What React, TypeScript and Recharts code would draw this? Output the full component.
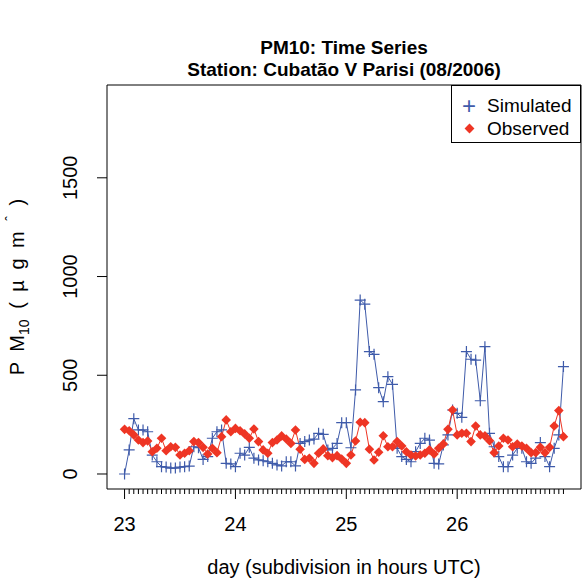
import { LineChart, Line, XAxis, YAxis, ReferenceArea, Label } from "recharts"

// hourly values, 23/08 00 UTC .. 26/08 23 UTC
const simulated = [
  0, 122, 280, 223, 223, 214, 96, 62, 37, 35, 30, 30,
  35, 37, 40, 138, 133, 74, 88, 181, 214, 223, 54, 51,
  37, 105, 96, 135, 80, 71, 67, 62, 54, 46, 41, 62,
  62, 41, 155, 164, 172, 177, 206, 201, 122, 130, 155, 260,
  260, 133, 426, 881, 860, 620, 606, 437, 366, 493, 454, 130,
  88, 74, 62, 113, 155, 181, 172, 54, 51, 147, 198, 324,
  307, 287, 620, 581, 577, 371, 645, 206, 138, 88, 37, 37,
  96, 130, 130, 62, 54, 80, 159, 88, 37, 130, 198, 544,
]

const observed = [
  226, 219, 198, 172, 159, 167, 113, 130, 181, 118, 138, 135,
  96, 105, 118, 164, 159, 135, 101, 130, 108, 189, 274, 214,
  231, 219, 203, 181, 228, 164, 122, 105, 159, 172, 193, 177,
  155, 223, 125, 74, 80, 54, 105, 127, 93, 83, 93, 76,
  54, 96, 167, 262, 260, 125, 71, 110, 194, 138, 138, 164,
  142, 113, 96, 91, 96, 105, 122, 101, 130, 152, 226, 324,
  198, 206, 206, 164, 243, 198, 193, 168, 108, 142, 181, 172,
  138, 152, 142, 130, 108, 108, 135, 108, 135, 243, 321, 189,
]

const dayLabels = ["23", "24", "25", "26"]
const yTicks = [0, 500, 1000, 1500]

const hours = simulated.map((_, i) => i)
const data = hours.map((h) => ({ hour: h, Simulated: simulated[h], Observed: observed[h] }))

const BLUE = "#3F5BAA"
const RED = "#EE3524"
const FONT = "'Liberation Sans', Arial, Helvetica, sans-serif"

const xDomain = [-3.8, 98.8]
const yDomain = [-76, 1970]

const XTick = ({ x, y, payload }: any) => {
  const major = payload.value % 24 === 0
  return (
    <g>
      <line x1={x} x2={x} y1={y} y2={y + (major ? 10 : 5)} stroke="#000" />
      {major && (
        <text x={x} y={y + 42} textAnchor="middle" fontSize={20} fontFamily={FONT} fill="#000">
          {dayLabels[payload.value / 24]}
        </text>
      )}
    </g>
  )
}

const YTick = ({ x, y, payload }: any) => (
  <g>
    <line x1={x - 10} x2={x} y1={y} y2={y} stroke="#000" />
    <text
      x={77}
      y={y}
      transform={`rotate(-90, 77, ${y})`}
      textAnchor="middle"
      fontSize={20}
      fontFamily={FONT}
      fill="#000"
    >
      {payload.value}
    </text>
  </g>
)

const Plus = ({ cx, cy }: any) => (
  <path d={`M${cx - 5.5},${cy}H${cx + 5.5}M${cx},${cy - 5.5}V${cy + 5.5}`} stroke={BLUE} strokeWidth={1.2} fill="none" />
)

const Diamond = ({ cx, cy }: any) => (
  <path d={`M${cx},${cy - 4.8}L${cx + 4.8},${cy}L${cx},${cy + 4.8}L${cx - 4.8},${cy}Z`} fill={RED} stroke="none" />
)

const YTitle = ({ viewBox }: any) => {
  const cx = 24
  const cy = viewBox.y + viewBox.height / 2
  return (
    <text
      x={cx}
      y={cy}
      transform={`rotate(-90, ${cx}, ${cy})`}
      textAnchor="middle"
      fontSize={20}
      fontFamily={FONT}
      fill="#000"
      style={{ wordSpacing: 5 }}
    >
      P M<tspan fontSize={14} dy={5}>10</tspan>
      <tspan dy={-5}> ( µ g m </tspan>
      <tspan fontSize={14} dy={-8}>ˆ</tspan>
      <tspan dy={8}> )</tspan>
    </text>
  )
}

const XTitle = ({ viewBox }: any) => (
  <text
    x={viewBox.x + viewBox.width / 2}
    y={574}
    textAnchor="middle"
    fontSize={20}
    fontFamily={FONT}
    fill="#000"
  >
    day (subdivision in hours UTC)
  </text>
)

export default function App() {
  return (
    <div style={{ position: "absolute", left: 0, top: 0, width: 582, height: 579, background: "#fff", fontFamily: FONT }}>
      <div
        style={{
          position: "absolute",
          left: 107,
          width: 474,
          top: 37,
          textAlign: "center",
          fontWeight: "bold",
          fontSize: 19,
          lineHeight: "22px",
          color: "#000",
        }}
      >
        PM10: Time Series
        <br />
        Station: Cubatão V Parisi (08/2006)
      </div>
      <LineChart width={582} height={579} data={data} margin={{ top: 85, right: 1, bottom: 0, left: 0 }}>
        <XAxis
          dataKey="hour"
          type="number"
          domain={xDomain}
          allowDataOverflow
          ticks={hours}
          interval={0}
          tick={<XTick />}
          tickLine={false}
          axisLine={false}
          tickSize={0}
          tickMargin={0}
          height={90}
        >
          <Label content={<XTitle />} />
        </XAxis>
        <YAxis
          type="number"
          domain={yDomain}
          allowDataOverflow
          ticks={yTicks}
          interval={0}
          tick={<YTick />}
          tickLine={false}
          axisLine={false}
          tickSize={0}
          tickMargin={0}
          width={107}
        >
          <Label content={<YTitle />} />
        </YAxis>
        <ReferenceArea
          x1={xDomain[0]}
          x2={xDomain[1]}
          y1={yDomain[0]}
          y2={yDomain[1]}
          fill="none"
          stroke="#000"
          strokeWidth={1}
          ifOverflow="visible"
        />
        <Line
          dataKey="Simulated"
          stroke={BLUE}
          strokeWidth={1}
          dot={<Plus />}
          activeDot={false}
          isAnimationActive={false}
        />
        <Line
          dataKey="Observed"
          stroke={RED}
          strokeWidth={1}
          dot={<Diamond />}
          activeDot={false}
          isAnimationActive={false}
        />
      </LineChart>
      <div
        style={{
          position: "absolute",
          left: 451,
          top: 85,
          width: 130,
          height: 58,
          border: "1px solid #000",
          boxSizing: "border-box",
          fontSize: 19,
          color: "#000",
        }}
      >
        <div style={{ position: "absolute", left: 10, top: 8, color: BLUE, fontSize: 24, lineHeight: "24px" }}>+</div>
        <div style={{ position: "absolute", left: 35, top: 9, lineHeight: "22px" }}>Simulated</div>
        <div
          style={{
            position: "absolute",
            left: 14,
            top: 39,
            width: 7,
            height: 7,
            background: RED,
            transform: "rotate(45deg)",
          }}
        />
        <div style={{ position: "absolute", left: 35, top: 32, lineHeight: "22px" }}>Observed</div>
      </div>
    </div>
  )
}
